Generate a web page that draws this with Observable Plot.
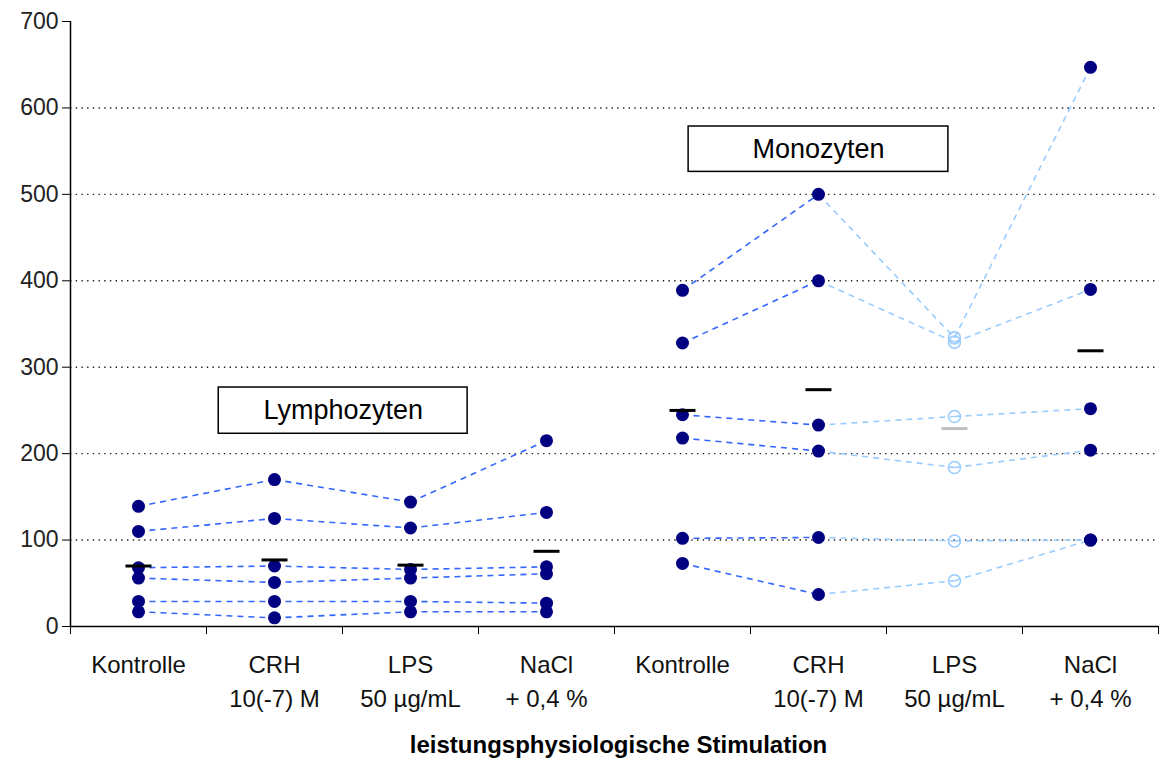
<!DOCTYPE html>
<html>
<head>
<meta charset="utf-8">
<script src="https://cdn.jsdelivr.net/npm/d3@7"></script>
<script src="https://cdn.jsdelivr.net/npm/@observablehq/plot@0.6"></script>
<style>
  html, body { margin: 0; padding: 0; background: #fff; }
  #chart svg { display: block; }
</style>
</head>
<body>
<div id="chart"></div>
<script>
// ---- data ----
const categories = ["Kontrolle", "CRH\n10(-7) M", "LPS\n50 µg/mL", "NaCl\n+ 0,4 %"];
const groups = ["Lymphozyten", "Monozyten"];

// each series: values at Kontrolle, CRH, LPS, NaCl
const lymphSeries = [
  [139, 170, 144, 215],
  [110, 125, 114, 132],
  [68, 70, 66, 69],
  [56, 51, 56, 61],
  [29, 29, 29, 27],
  [17, 10, 17, 17]
];
const lymphMeans = [70, 77, 71, 87];

const monoSeries = [
  [389, 500, 334, 647],
  [328, 400, 329, 390],
  [245, 233, 243, 252],
  [218, 203, 184, 204],
  [102, 103, 99, 100],
  [73, 37, 53, 100]
];
const monoMeans = [250, 274, 229, 319];

const yTicks = [0, 100, 200, 300, 400, 500, 600, 700];
const gridValues = [100, 200, 300, 400, 500, 600];
const xTitle = "leistungsphysiologische Stimulation";

// group label boxes (data coordinates: x in category units, y in values)
const boxLabels = ["Lymphozyten", "Monozyten"];
const boxX1 = [1.09, 4.545];
const boxX2 = [2.92, 6.455];
const boxY1 = [223, 526];
const boxY2 = [276.5, 578.5];

// ---- derived tables ----
const colMedium = "#3366ff";
const colLight = "#99ccff";
const seriesByGroup = [lymphSeries, monoSeries];
const meansByGroup = [lymphMeans, monoMeans];

const points = [];
const segments = [];
const means = [];
seriesByGroup.forEach((series, gi) => {
  series.forEach((vals) => {
    vals.forEach((v, ci) => {
      const x = gi * categories.length + ci + 0.5;
      points.push({x, y: v, hollow: gi === 1 && ci === 2});
      if (ci < vals.length - 1) {
        segments.push({
          x1: x, y1: v, x2: x + 1, y2: vals[ci + 1],
          color: gi === 1 && ci >= 1 ? colLight : colMedium
        });
      }
    });
  });
  meansByGroup[gi].forEach((m, ci) => {
    means.push({x: gi * categories.length + ci + 0.5, y: m, color: gi === 1 && ci === 2 ? "#c0c0c0" : "#000"});
  });
});

const catLabels = [];
groups.forEach((g, gi) => categories.forEach((c, ci) => catLabels.push({x: gi * categories.length + ci + 0.5, text: c})));
const boundaries = d3.range(0, groups.length * categories.length + 1);
const boxes = boxLabels.map((t, i) => ({text: t, x1: boxX1[i], x2: boxX2[i], y1: boxY1[i], y2: boxY2[i]}));

const barSymbol = {
  draw(ctx) {
    ctx.moveTo(-13, -1.5);
    ctx.lineTo(13, -1.5);
    ctx.lineTo(13, 1.5);
    ctx.lineTo(-13, 1.5);
    ctx.closePath();
  }
};

const chart = Plot.plot({
  width: 1160,
  height: 765,
  marginLeft: 70,
  marginRight: 2,
  marginTop: 21,
  marginBottom: 139,
  style: {fontFamily: "'Liberation Sans', Arial, sans-serif", fontSize: "23px", color: "#000", background: "#fff"},
  x: {domain: [0, 8], axis: null},
  y: {domain: [0, 700], axis: null},
  marks: [
    Plot.ruleY(gridValues, {stroke: "#222", strokeWidth: 1.4, strokeDasharray: "1.4,4.3"}),
    Plot.ruleX([0], {stroke: "#000", strokeWidth: 1.5}),
    Plot.ruleY([0], {stroke: "#000", strokeWidth: 1.5}),
    Plot.axisY({ticks: yTicks, tickSize: 8, tickPadding: 4, fontSize: 23, tickFormat: d => String(d), stroke: "#000", fill: "#222"}),
    Plot.axisX({ticks: boundaries, tickSize: 8, tickFormat: () => "", stroke: "#000"}),
    Plot.text(catLabels, {x: "x", text: "text", frameAnchor: "bottom", lineAnchor: "top", dy: 23, fontSize: 24, lineHeight: 1.4, fill: "#111"}),
    Plot.text([xTitle], {frameAnchor: "bottom", lineAnchor: "middle", dy: 119, dx: 4, fontSize: 24, fontWeight: "bold", fill: "#000"}),
    Plot.link(segments, {x1: "x1", y1: "y1", x2: "x2", y2: "y2", stroke: "color", strokeWidth: 1.6, strokeDasharray: "6,5"}),
    Plot.dot(points.filter(d => !d.hollow), {x: "x", y: "y", r: 6.5, fill: "#000080", stroke: "none"}),
    Plot.dot(points.filter(d => d.hollow), {x: "x", y: "y", r: 6, fill: "none", stroke: colLight, strokeWidth: 1.6}),
    Plot.dot(means, {x: "x", y: "y", symbol: barSymbol, fill: "color", stroke: "none", r: 6}),
    Plot.rect(boxes, {x1: "x1", x2: "x2", y1: "y1", y2: "y2", fill: "#fff", stroke: "#000", strokeWidth: 1.5}),
    Plot.text(boxes, {x: d => (d.x1 + d.x2) / 2, y: d => (d.y1 + d.y2) / 2, text: "text", fontSize: 27, fill: "#000"})
  ]
});

document.getElementById("chart").appendChild(chart);
</script>
</body>
</html>
